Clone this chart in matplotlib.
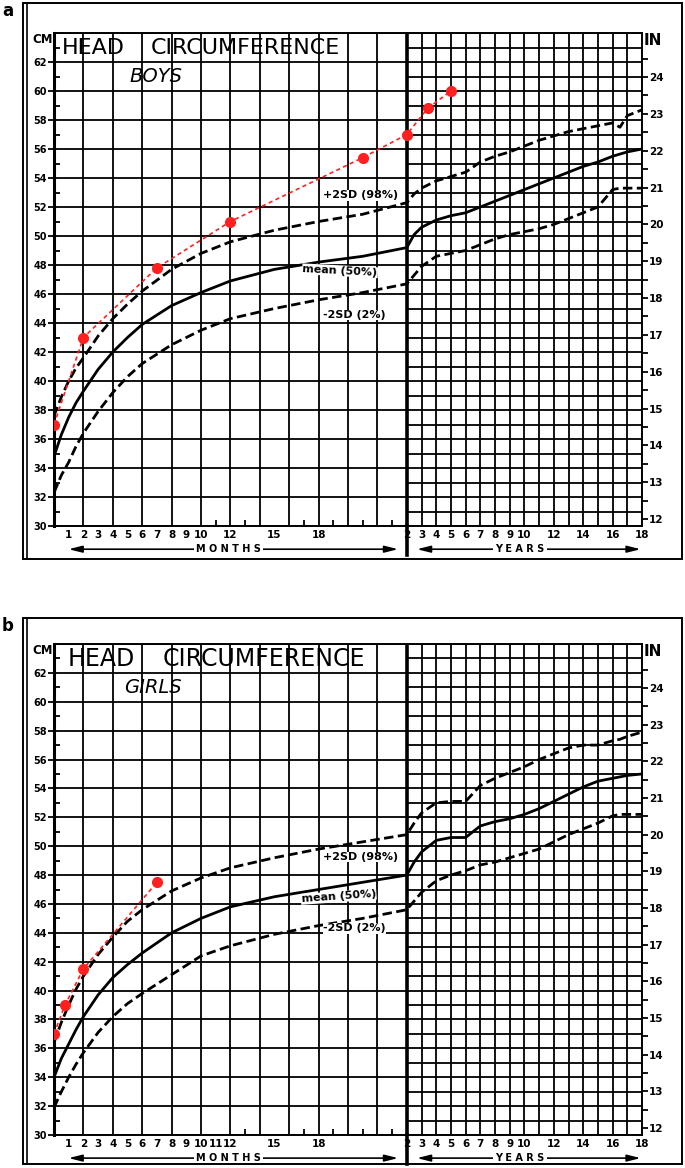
import numpy as np
import matplotlib
matplotlib.use("Agg")
import matplotlib.pyplot as plt
from matplotlib.patches import Rectangle

# ages: months 0-24, then years 2.5-18
months = [0, 0.5, 1, 1.5, 2, 3, 4, 5, 6, 8, 10, 12, 15, 18, 21, 24]
years = [2.5, 3, 4, 5, 6, 7, 8, 9, 10, 11, 12, 13, 14, 15, 16, 16.5, 17, 18]

# boys (cm)
boys_p98_m = [37.6, 38.9, 40.0, 40.9, 41.6, 43.1, 44.3, 45.3, 46.2, 47.7, 48.8, 49.6, 50.4, 51.0, 51.5, 52.3]
boys_p98_y = [52.9, 53.3, 53.8, 54.1, 54.4, 55.1, 55.5, 55.8, 56.2, 56.6, 56.9, 57.2, 57.4, 57.6, 57.8, 57.5, 58.3, 58.7]
boys_mean_m = [34.8, 36.3, 37.5, 38.5, 39.3, 40.8, 42.0, 43.0, 43.9, 45.2, 46.1, 46.9, 47.7, 48.2, 48.6, 49.2]
boys_mean_y = [50.1, 50.6, 51.1, 51.4, 51.6, 52.0, 52.4, 52.8, 53.2, 53.6, 54.0, 54.4, 54.8, 55.1, 55.5, 55.65, 55.8, 56.0]
boys_p2_m = [32.3, 33.5, 34.4, 35.5, 36.4, 37.9, 39.2, 40.3, 41.2, 42.5, 43.5, 44.3, 45.0, 45.6, 46.1, 46.7]
boys_p2_y = [47.3, 47.9, 48.6, 48.8, 49.0, 49.4, 49.8, 50.1, 50.3, 50.5, 50.8, 51.2, 51.6, 52.0, 53.2, 53.3, 53.3, 53.3]

# girls (cm)
girls_p98_m = [36.4, 37.8, 39.0, 40.1, 41.0, 42.5, 43.7, 44.8, 45.6, 46.9, 47.8, 48.5, 49.2, 49.8, 50.3, 50.8]
girls_p98_y = [51.6, 52.3, 53.0, 53.1, 53.1, 54.2, 54.7, 55.1, 55.5, 56.0, 56.4, 56.8, 57.0, 57.0, 57.3, 57.4, 57.6, 57.9]
girls_mean_m = [34.0, 35.3, 36.3, 37.3, 38.2, 39.7, 40.9, 41.8, 42.6, 44.0, 45.0, 45.8, 46.5, 47.0, 47.5, 48.0]
girls_mean_y = [48.9, 49.6, 50.4, 50.6, 50.6, 51.4, 51.7, 51.9, 52.2, 52.6, 53.1, 53.6, 54.1, 54.5, 54.7, 54.8, 54.9, 55.0]
girls_p2_m = [31.9, 33.0, 34.0, 34.9, 35.7, 37.1, 38.2, 39.1, 39.8, 41.1, 42.4, 43.1, 43.9, 44.5, 45.0, 45.6]
girls_p2_y = [46.2, 46.8, 47.6, 48.0, 48.3, 48.7, 48.9, 49.2, 49.5, 49.8, 50.3, 50.8, 51.2, 51.6, 52.1, 52.2, 52.2, 52.2]

# patient measurements (age in months, cm)
boys_pt_age = [0, 2, 7, 12, 21, 24, 41, 60]
boys_pt_cm = [37.0, 43.0, 47.8, 51.0, 55.4, 57.0, 58.8, 60.0]
girls_pt_age = [0, 0.75, 2, 7]
girls_pt_cm = [37.0, 39.0, 41.5, 47.5]

month_ticks = [1, 2, 3, 4, 5, 6, 7, 8, 9, 10, 12, 15, 18]
month_ticks_girls = [1, 2, 3, 4, 5, 6, 7, 8, 9, 10, 11, 12, 15, 18]
year_ticks = [2, 3, 4, 5, 6, 7, 8, 9, 10, 12, 14, 16, 18]

W, H = 685, 1168


def age_x(age_months):
    # months on the left part, one column per year after 2 years
    a = np.asarray(age_months, dtype=float)
    return np.where(a <= 24, a, 22 + a / 12.0)


def yx(y):
    return 22 + np.asarray(y, dtype=float)


def panel(fig, ax_px, box_px, letter, sex, mticks, curves, pts, labels, title_x, title_fs):
    x0, top, x1, bot = ax_px
    ax = fig.add_axes([x0 / W, 1 - bot / H, (x1 - x0) / W, (bot - top) / H])
    ax.set_xlim(0, 40)
    ax.set_ylim(30, 64)

    # chart paper grid
    ax.vlines(np.arange(0, 25, 2), 30, 64, color="black", lw=1.3)
    ax.hlines(np.arange(30, 65, 2), 0, 24, color="black", lw=1.3)
    ax.vlines(np.arange(24, 41, 1), 30, 64, color="black", lw=1.3)
    ax.hlines(np.arange(30, 65, 1), 24, 40, color="black", lw=1.3)
    ax.axvline(24, color="black", lw=2.6)
    for s in ax.spines.values():
        s.set_linewidth(1.4)
    ax.spines["left"].set_linewidth(2.2)

    # curves
    dash = (0, (3.4, 1.6))
    for (ym, yy), style in zip(curves, [dash, "-", dash]):
        xs = np.concatenate([months, yx(years)])
        ys = np.concatenate([ym, yy])
        ax.plot(xs, ys, color="black", lw=2.0, linestyle=style, zorder=4)

    ax.plot(age_x(pts[0]), pts[1], color="#ff2020", lw=1.2, linestyle=(0, (2.5, 2)),
            marker="o", markersize=7, zorder=5)

    # curve labels
    for (tx, ty, s, rot) in labels:
        ax.text(tx, ty, s, fontsize=8, fontweight="bold", rotation=rot, va="center", ha="left",
                zorder=6, bbox=dict(facecolor="white", edgecolor="none", pad=0.3))

    # title
    ax.text(title_x[0], 62.95, "HEAD", fontsize=title_fs, va="center", ha="left", zorder=6)
    ax.text(title_x[1], 62.95, "CIRCUMFERENCE", fontsize=title_fs, va="center", ha="left", zorder=6)
    ax.text(title_x[2], 61.0, sex, fontsize=14, style="italic", va="center", ha="left", zorder=6)

    # left axis cm
    ax.set_yticks(np.arange(30, 63, 2))
    ax.set_yticks(np.arange(31, 64, 2), minor=True)
    ax.tick_params(axis="y", which="major", direction="out", length=4, width=1.3,
                   labelsize=7, pad=1)
    ax.tick_params(axis="y", which="minor", direction="in", length=4, width=1.3)
    for t in ax.get_yticklabels():
        t.set_fontweight("bold")

    # bottom axis months / years
    xt = list(mticks) + list(yx(year_ticks))
    xl = [str(m) for m in mticks] + [str(y) for y in year_ticks]
    ax.set_xticks(xt, xl)
    ax.set_xticks(np.arange(1, 24, 2), minor=True)
    ax.tick_params(axis="x", which="major", length=0, labelsize=7.5, pad=3)
    ax.tick_params(axis="x", which="minor", direction="in", length=4, width=1.3)
    for t in ax.get_xticklabels():
        t.set_fontweight("bold")

    # right axis inches
    ax2 = ax.twinx()
    ax2.set_ylim(30 / 2.54, 64 / 2.54)
    ax2.set_yticks(np.arange(12, 25, 1))
    ax2.set_yticks(np.arange(12.5, 25, 1), minor=True)
    ax2.tick_params(axis="y", which="both", direction="out", length=4, width=1.3,
                    labelsize=7.5, pad=1)
    for t in ax2.get_yticklabels():
        t.set_fontweight("bold")
    for s in ax2.spines.values():
        s.set_visible(False)

    ax.text(-0.1, 64.0, "CM", fontsize=8.5, fontweight="bold", ha="right", va="top")
    ax.text(40.1, 64.0, "IN", fontsize=11, fontweight="bold", ha="left", va="top")

    # MONTHS / YEARS arrows
    ya = 28.4
    arr = dict(arrowstyle="<|-|>,head_length=0.8,head_width=0.2", color="black", lw=1.2)
    ax.annotate("", xy=(0.8, ya), xytext=(23.6, ya), arrowprops=arr, annotation_clip=False)
    ax.annotate("", xy=(24.5, ya), xytext=(40.1, ya), arrowprops=arr, annotation_clip=False)
    ax.text(11.9, ya, "M O N T H S", fontsize=7, fontweight="bold", ha="center", va="center",
            bbox=dict(facecolor="white", edgecolor="none", pad=1.5), clip_on=False)
    ax.text(31.7, ya, "Y E A R S", fontsize=7, fontweight="bold", ha="center", va="center",
            bbox=dict(facecolor="white", edgecolor="none", pad=1.5), clip_on=False)
    ax.plot([24, 24], [30, 28.0], color="black", lw=2.6, clip_on=False)

    # outer frame
    bx0, by0, bx1, by1 = box_px
    fig.add_artist(Rectangle((bx0 / W, 1 - by1 / H), (bx1 - bx0) / W, (by1 - by0) / H,
                             transform=fig.transFigure, fill=False, lw=1.4, color="black"))
    fig.add_artist(plt.Line2D([(bx0 + 3.5) / W] * 2, [1 - by1 / H, 1 - by0 / H],
                              transform=fig.transFigure, lw=1.2, color="black"))
    fig.text(2 / W, 1 - (by0 + 8) / H, letter, fontsize=12, fontweight="bold", va="center")


fig = plt.figure(figsize=(W / 100, H / 100), dpi=100)
fig.patch.set_facecolor("white")

panel(fig, (54, 33, 642, 526), (23, 3, 682, 559), "a", "BOYS", month_ticks,
      [(boys_p98_m, boys_p98_y), (boys_mean_m, boys_mean_y), (boys_p2_m, boys_p2_y)],
      (boys_pt_age, boys_pt_cm),
      [(18.3, 52.8, "+2SD (98%)", 0), (16.9, 47.6, "mean (50%)", -3), (18.3, 44.55, "-2SD (2%)", 0)],
      (0.55, 6.6, 5.1), 16)

panel(fig, (54, 644, 642, 1135), (23, 618, 682, 1164), "b", "GIRLS", month_ticks_girls,
      [(girls_p98_m, girls_p98_y), (girls_mean_m, girls_mean_y), (girls_p2_m, girls_p2_y)],
      (girls_pt_age, girls_pt_cm),
      [(18.3, 49.25, "+2SD (98%)", 0), (16.8, 46.5, "mean (50%)", 4), (18.3, 44.3, "-2SD (2%)", 0)],
      (0.95, 7.4, 4.8), 17)

fig.savefig("out.png", dpi=100)
